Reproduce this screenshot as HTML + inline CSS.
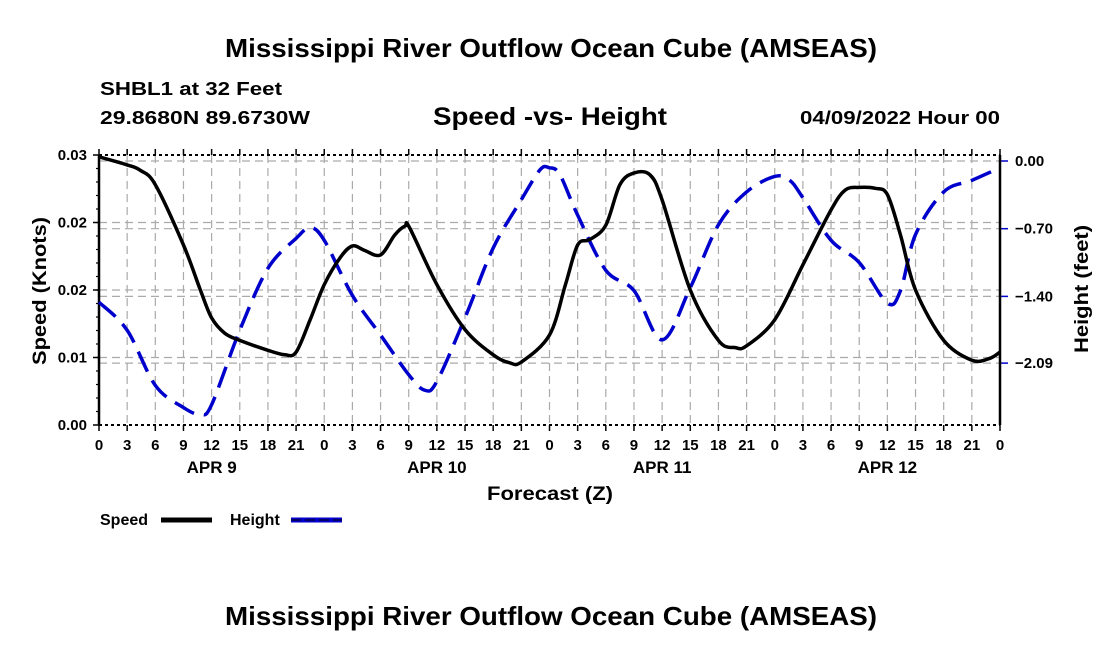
<!DOCTYPE html>
<html><head><meta charset="utf-8"><style>
body{margin:0;background:#fff;}
svg{display:block;font-family:"Liberation Sans",Arial,sans-serif;font-weight:bold;}
</style></head><body>
<svg id="c" width="1100" height="650" viewBox="0 0 1100 650">
<text x="225" y="57" textLength="652" lengthAdjust="spacingAndGlyphs" font-size="26">Mississippi River Outflow Ocean Cube (AMSEAS)</text>
<text x="100" y="95" textLength="182" lengthAdjust="spacingAndGlyphs" font-size="18">SHBL1 at 32 Feet</text>
<text x="100" y="124" textLength="210" lengthAdjust="spacingAndGlyphs" font-size="18">29.8680N  89.6730W</text>
<text x="433" y="125" textLength="234" lengthAdjust="spacingAndGlyphs" font-size="25">Speed -vs- Height</text>
<text x="800" y="124" textLength="200" lengthAdjust="spacingAndGlyphs" font-size="18">04/09/2022 Hour 00</text>
<g id="grid"></g>
<g id="axes"></g>
<g id="series"></g>
<text x="487" y="500" textLength="126" lengthAdjust="spacingAndGlyphs" font-size="19">Forecast (Z)</text>
<text transform="translate(46,291) rotate(-90)" text-anchor="middle" textLength="148" lengthAdjust="spacingAndGlyphs" font-size="19">Speed (Knots)</text>
<text transform="translate(1088,289) rotate(-90)" text-anchor="middle" textLength="128" lengthAdjust="spacingAndGlyphs" font-size="19">Height (feet)</text>
<g>
<text x="100" y="525" font-size="16">Speed</text>
<line x1="161" y1="520" x2="212" y2="520" stroke="#000" stroke-width="5"/>
<text x="230" y="525" font-size="16">Height</text>
<line x1="291" y1="520" x2="342" y2="520" stroke="#00c" stroke-width="5"/>
<line x1="291" y1="520" x2="342" y2="520" stroke="#000" stroke-width="1" stroke-dasharray="10,4"/>
</g>
<text x="225" y="625" textLength="652" lengthAdjust="spacingAndGlyphs" font-size="26">Mississippi River Outflow Ocean Cube (AMSEAS)</text>
</svg>
<script>
const speedHours=[0,3,4.4,6,9,10.8,12,13.4,15,18,19.8,21,22.5,24,25.7,27,28.3,30,31.5,32.6,33.1,36,39,42,43.8,45,48,49.7,51,52.3,54,55.5,57,58.7,60,63,66,67.8,69,72,75,78,79.5,81,82.7,84,85.4,87,90,93,94.9,96];
const speedValues=[0.0298,0.0289,0.0283,0.0267,0.0200,0.0150,0.0119,0.0102,0.0094,0.0083,0.0078,0.0081,0.0117,0.0156,0.0186,0.0199,0.0194,0.0189,0.0211,0.0221,0.0219,0.0156,0.0106,0.0078,0.0069,0.0070,0.0100,0.0156,0.0200,0.0206,0.0222,0.0267,0.0280,0.0278,0.0250,0.0150,0.0094,0.0086,0.0088,0.0117,0.0178,0.0239,0.0261,0.0264,0.0263,0.0256,0.0211,0.0150,0.0094,0.0072,0.0074,0.0081];
const heightHours=[0,3,6,9,10.8,12,15,18,21,22.5,24,27,30,33,34.7,36,39,42,45,47,48,49.1,51,54,57,60,63,66,69,72,73.6,75,78,81,84,85.4,87,90,93,96];
const heightValues=[-1.46,-1.75,-2.32,-2.55,-2.62,-2.52,-1.75,-1.11,-0.80,-0.69,-0.82,-1.39,-1.80,-2.21,-2.37,-2.28,-1.62,-0.90,-0.40,-0.09,-0.07,-0.14,-0.56,-1.13,-1.34,-1.85,-1.31,-0.66,-0.32,-0.16,-0.20,-0.38,-0.82,-1.05,-1.47,-1.34,-0.76,-0.32,-0.20,-0.07];
const xTickLabels=["0","3","6","9","12","15","18","21"];
const dayLabels=["APR 9","APR 10","APR 11","APR 12"];
const leftTickValues=[0,0.0075,0.015,0.0225,0.03];
const leftTickLabels=["0.00","0.01","0.02","0.02","0.03"];
const rightTickValues=[0,-0.70,-1.40,-2.09];
const rightTickLabels=["0.00","-0.70","-1.40","-2.09"];

const X0=99,X1=1000,Y0=425,Y1=155;
const xs=h=>X0+h/96*(X1-X0);
const ys=v=>Y0-v/0.03*(Y0-Y1);
const yh=v=>161-v*96.7;
const NS="http://www.w3.org/2000/svg";
function mk(tag,attrs,parent){const e=document.createElementNS(NS,tag);for(const k in attrs)e.setAttribute(k,attrs[k]);parent.appendChild(e);return e;}
const grid=document.getElementById('grid'),axes=document.getElementById('axes'),series=document.getElementById('series');
for(let h=0;h<=96;h+=3){
  const x=xs(h);
  if(h>0&&h<96){const g=mk('line',{x1:x,y1:Y1,x2:x,y2:Y0,stroke:'#aaa','stroke-width':1.2,'stroke-dasharray':'8,5'},grid);
  }
  const t=mk('line',{x1:x,y1:Y0,x2:x,y2:Y0+6,stroke:'#000','stroke-width':1.5},axes);
  
  const t2=mk('line',{x1:x,y1:Y1,x2:x,y2:Y1-6,stroke:'#000','stroke-width':1.5},axes);
  
  const lab=mk('text',{x:x,y:Y0+25,'text-anchor':'middle','font-size':15},axes);
  lab.textContent=h===96?"0":xTickLabels[(h/3)%8];
  
}
dayLabels.forEach((d,i)=>{const t=mk('text',{x:xs(12+24*i),y:Y0+48,'text-anchor':'middle','font-size':17},axes);t.textContent=d;
});
leftTickValues.forEach((v,i)=>{const y=ys(v);
  if(i>0&&i<4){const g=mk('line',{x1:X0,y1:y,x2:X1,y2:y,stroke:'#aaa','stroke-width':1.2,'stroke-dasharray':'8,5'},grid);
  }
  const t=mk('line',{x1:X0-6,y1:y,x2:X0,y2:y,stroke:'#000','stroke-width':1.5},axes);
  
  const l=mk('text',{x:X0-12,y:y+5,'text-anchor':'end','font-size':15},axes);l.textContent=leftTickLabels[i];
  
});
for(let k=1;k<20;k++){const y=Y0-k*(Y0-Y1)/20;const m=mk('line',{x1:X0-3,y1:y,x2:X0,y2:y,stroke:'#000','stroke-width':1.2},axes);
}
rightTickValues.forEach((v,i)=>{const y=yh(v);
  const g=mk('line',{x1:X0,y1:y,x2:X1,y2:y,stroke:'#aaa','stroke-width':1.2,'stroke-dasharray':'8,5'},grid);
  
  const t=mk('line',{x1:X1,y1:y,x2:X1+8,y2:y,stroke:'#00c','stroke-width':1.5},axes);
  
  const l=mk('text',{x:X1+15,y:y+5,'font-size':15},axes);l.textContent=rightTickLabels[i].replace('-','\u2212');
  
});
const fr=mk('line',{x1:X0,y1:Y1,x2:X0,y2:Y0,stroke:'#000','stroke-width':2.5},axes);
const fr2=mk('line',{x1:X1,y1:Y1,x2:X1,y2:Y0,stroke:'#000','stroke-width':2.5},axes);
const fr3=mk('line',{x1:X0,y1:Y0,x2:X1,y2:Y0,stroke:'#000','stroke-width':2,'stroke-dasharray':'3,3'},axes);
const fr4=mk('line',{x1:X0,y1:Y1,x2:X1,y2:Y1,stroke:'#000','stroke-width':2,'stroke-dasharray':'3,3'},axes);
function smooth(pts){let d=`M${pts[0][0]},${pts[0][1]}`;
  for(let i=0;i<pts.length-1;i++){const p0=pts[Math.max(0,i-1)],p1=pts[i],p2=pts[i+1],p3=pts[Math.min(pts.length-1,i+2)];
    d+=` C${p1[0]+(p2[0]-p0[0])/6},${p1[1]+(p2[1]-p0[1])/6} ${p2[0]-(p3[0]-p1[0])/6},${p2[1]-(p3[1]-p1[1])/6} ${p2[0]},${p2[1]}`;}
  return d;}
const hp=mk('path',{d:smooth(heightHours.map((h,i)=>[xs(h),yh(heightValues[i])])),fill:'none',stroke:'#00c','stroke-width':3.5,'stroke-dasharray':'22,10'},series);

const sp=mk('path',{d:smooth(speedHours.map((h,i)=>[xs(h),ys(speedValues[i])])),fill:'none',stroke:'#000','stroke-width':3.5},series);

</script>
</body></html>
